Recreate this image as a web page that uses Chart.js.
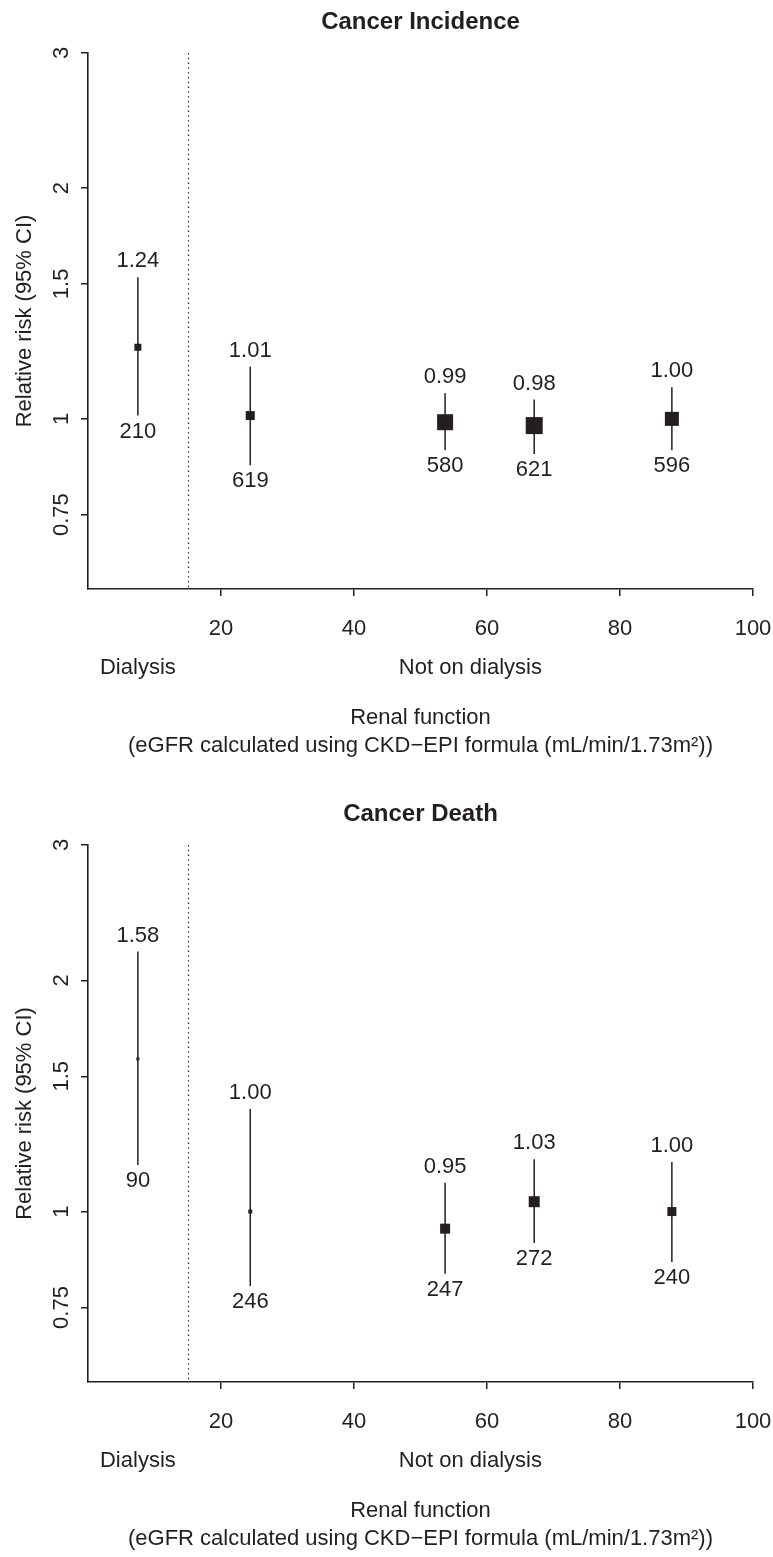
<!DOCTYPE html>
<html>
<head>
<meta charset="utf-8">
<script src="https://cdn.jsdelivr.net/npm/chart.js@4.4.1/dist/chart.umd.min.js"></script>
<style>
  html, body { margin: 0; padding: 0; background: #fff; overflow: hidden; }
  canvas { display: block; }
</style>
</head>
<body>
<canvas id="incidence" width="773" height="792"></canvas>
<canvas id="death" width="773" height="765"></canvas>
<script>
// eGFR group midpoints (mL/min/1.73m2), dialysis group sits left of the cut-off
const egfrMid = [7.5, 24.4, 53.7, 67.1, 87.8];
const dialysisCut = 15;

// Cancer incidence
const incRR = [1.24, 1.01, 0.99, 0.98, 1.00];
const incLo = [1.01, 0.87, 0.91, 0.90, 0.91];
const incHi = [1.53, 1.17, 1.08, 1.06, 1.10];
const incN  = [210, 619, 580, 621, 596];

// Cancer death
const deathRR = [1.58, 1.00, 0.95, 1.03, 1.00];
const deathLo = [1.15, 0.80, 0.83, 0.91, 0.86];
const deathHi = [2.18, 1.36, 1.09, 1.17, 1.16];
const deathN  = [90, 246, 247, 272, 240];

const yTicks = [0.75, 1, 1.5, 2, 3];
const xTicks = [20, 40, 60, 80, 100];

// box side in px (weight of each estimate)
const incBox = [7, 9, 16, 17, 14];
const deathBox = [3, 4, 10, 11, 9];

const INK = '#231f20';
const FONT = '"Liberation Sans", Arial, Helvetica, sans-serif';

function forestPlugin(o) {
  return {
    id: 'forest',
    beforeDatasetsDraw(chart) {
      const { ctx, chartArea: a, scales: { x, y } } = chart;
      ctx.save();
      // dialysis cut-off
      ctx.strokeStyle = INK;
      ctx.lineWidth = 1.2;
      ctx.setLineDash([1.4, 3.4]);
      const cx = Math.round(x.getPixelForValue(dialysisCut)) + 0.5;
      ctx.beginPath();
      ctx.moveTo(cx, a.top);
      ctx.lineTo(cx, a.bottom);
      ctx.stroke();
      ctx.setLineDash([]);
      // confidence intervals
      ctx.lineWidth = 1.5;
      egfrMid.forEach((v, i) => {
        const px = x.getPixelForValue(v);
        ctx.beginPath();
        ctx.moveTo(px, y.getPixelForValue(o.lo[i]));
        ctx.lineTo(px, y.getPixelForValue(o.hi[i]));
        ctx.stroke();
      });
      ctx.restore();
    },
    afterDraw(chart) {
      const { ctx, chartArea: a, scales: { x, y } } = chart;
      const mid = (a.left + a.right) / 2;
      ctx.save();
      ctx.fillStyle = INK;
      ctx.textAlign = 'center';
      ctx.textBaseline = 'middle';

      ctx.font = 'bold 24px ' + FONT;
      ctx.fillText(o.title, mid, 22);

      ctx.font = '22px ' + FONT;
      // y tick labels, parallel to the axis
      yTicks.forEach(v => {
        ctx.save();
        ctx.translate(62, y.getPixelForValue(v));
        ctx.rotate(-Math.PI / 2);
        ctx.fillText(String(v), 0, 0);
        ctx.restore();
      });
      ctx.save();
      ctx.translate(25, (a.top + a.bottom) / 2);
      ctx.rotate(-Math.PI / 2);
      ctx.fillText('Relative risk (95% CI)', 0, 0);
      ctx.restore();

      // estimate and count labels
      egfrMid.forEach((v, i) => {
        const px = x.getPixelForValue(v);
        ctx.fillText(o.rr[i].toFixed(2), px, y.getPixelForValue(o.hi[i]) - 16);
        ctx.fillText(String(o.n[i]), px, y.getPixelForValue(o.lo[i]) + 16);
      });

      // group and axis titles
      ctx.fillText('Dialysis', x.getPixelForValue(7.5), a.bottom + 79);
      ctx.fillText('Not on dialysis', x.getPixelForValue(57.5), a.bottom + 79);
      ctx.fillText('Renal function', mid, a.bottom + 129);
      ctx.fillText('(eGFR calculated using CKD\u2212EPI formula (mL/min/1.73m\u00b2))', mid, a.bottom + 157);
      ctx.restore();
    }
  };
}

function makeChart(id, o) {
  const H = document.getElementById(id).height;
  return new Chart(document.getElementById(id), {
    type: 'scatter',
    data: {
      datasets: [{
        data: egfrMid.map((v, i) => ({ x: v, y: o.rr[i] })),
        pointStyle: 'rect',
        pointRadius: o.box.map(s => s / Math.SQRT2),
        pointBackgroundColor: INK,
        pointBorderWidth: 0,
      }],
    },
    options: {
      responsive: false,
      animation: false,
      events: [],
      layout: { padding: { top: 53, right: 20, left: 0, bottom: 0 } },
      plugins: { legend: { display: false }, tooltip: { enabled: false } },
      scales: {
        x: {
          type: 'linear',
          min: 0,
          max: 100,
          afterBuildTicks: s => { s.ticks = xTicks.map(v => ({ value: v })); },
          afterFit: s => {
            s.height = H - o.bottom;
            s.paddingLeft = 0;
            s.paddingRight = 0;
          },
          grid: { drawOnChartArea: false, drawTicks: true, tickLength: 7, color: INK, lineWidth: 1.5 },
          border: { display: true, color: INK, width: 1.6 },
          ticks: { color: INK, font: { family: FONT, size: 22 }, padding: 20, maxRotation: 0, autoSkip: false },
        },
        y: {
          type: 'logarithmic',
          min: 0.6,
          max: 3,
          afterBuildTicks: s => { s.ticks = yTicks.map(v => ({ value: v })); },
          afterFit: s => {
            s.width = 88;
            s.paddingTop = 0;
            s.paddingBottom = 0;
          },
          grid: { drawOnChartArea: false, drawTicks: true, tickLength: 7, color: INK, lineWidth: 1.5 },
          border: { display: true, color: INK, width: 1.6 },
          ticks: { display: false },
        },
      },
    },
    plugins: [forestPlugin(o)],
  });
}

makeChart('incidence', { title: 'Cancer Incidence', rr: incRR, lo: incLo, hi: incHi, n: incN, box: incBox, bottom: 589 });
makeChart('death', { title: 'Cancer Death', rr: deathRR, lo: deathLo, hi: deathHi, n: deathN, box: deathBox, bottom: 590 });
</script>
</body>
</html>
